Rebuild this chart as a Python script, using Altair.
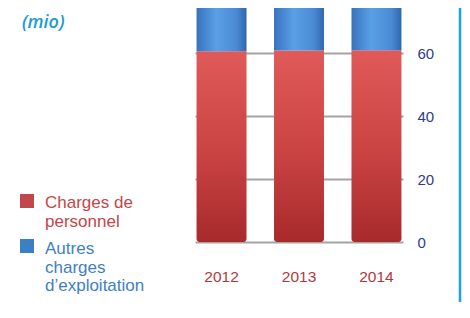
import altair as alt
import pandas as pd

years = ["2012", "2013", "2014"]
personnel = [60.6, 60.8, 60.9]
autres = [19.0, 19.0, 19.5]
series = ["Charges de personnel", "Autres charges d’exploitation"]
tick_values = [0, 20, 40, 60]
unit_label = "(mio)"

df = pd.DataFrame({"year": years, "personnel": personnel, "autres": autres})

FONT = "Liberation Sans"

x_enc = alt.X(
    "year:N",
    sort=years,
    scale=alt.Scale(paddingInner=0.355, paddingOuter=0.02),
    axis=alt.Axis(
        title=None, orient="bottom", domain=False, ticks=False, tickSize=0,
        labelPadding=27, labelFontSize=15.5, labelColor="#b2383c",
        labelFont=FONT, labelAngle=0, grid=False,
    ),
)
y_scale = alt.Scale(domain=[0, 74.3], nice=False, zero=True)

red_grad = alt.Gradient(
    gradient="linear", x1=0, x2=0, y1=0, y2=1,
    stops=[alt.GradientStop(color="#e05a5a", offset=0),
           alt.GradientStop(color="#cc4545", offset=0.5),
           alt.GradientStop(color="#a82a2b", offset=1)],
)
blue_grad = alt.Gradient(
    gradient="linear", x1=0, x2=1, y1=0, y2=0,
    stops=[alt.GradientStop(color="#3873bd", offset=0),
           alt.GradientStop(color="#5aa0e6", offset=0.4),
           alt.GradientStop(color="#4a8ad4", offset=0.8),
           alt.GradientStop(color="#2f67ae", offset=1)],
)

base = alt.Chart(df)

red_bars = base.mark_bar(
    fill=red_grad, clip=True, cornerRadiusBottomLeft=3, cornerRadiusBottomRight=3
).encode(
    x=x_enc,
    y=alt.Y(
        "personnel:Q", scale=y_scale, stack=None,
        axis=alt.Axis(
            title=None, orient="right", values=tick_values, domain=False,
            ticks=False, tickSize=0, labelPadding=14, labelFontSize=15,
            labelColor="#2d3d8a", labelFont=FONT, grid=True,
            gridColor="#a3a3a3", gridWidth=2, labelAlign="left",
        ),
    ),
)

blue_bars = base.mark_bar(
    fill=blue_grad, clip=True, cornerRadiusTopLeft=6, cornerRadiusTopRight=6
).transform_calculate(
    total="datum.personnel + datum.autres"
).encode(
    x=alt.X("year:N", sort=years),
    y=alt.Y("total:Q", scale=y_scale),
    y2="personnel:Q",
)

leg_df = pd.DataFrame({"s": series})

def leg_square(name, color, y):
    return alt.Chart(leg_df).transform_filter(
        alt.datum.s == name
    ).mark_square(size=196, color=color, opacity=1).encode(
        x=alt.value(-168), y=alt.value(y)
    )

def leg_text(name, label, color, y):
    return alt.Chart(leg_df).transform_filter(
        alt.datum.s == name
    ).mark_text(
        text=label, align="left", baseline="alphabetic", fontSize=17,
        font=FONT, color=color, lineBreak="\n", lineHeight=18.5,
    ).encode(x=alt.value(-150), y=alt.value(y))

leg = (
    leg_square(series[0], "#c0474b", 193)
    + leg_text(series[0], "Charges de\npersonnel", "#c3464a", 200)
    + leg_square(series[1], "#3c80c4", 238)
    + leg_text(series[1], "Autres\ncharges\nd’exploitation", "#3f80c3", 246)
)

mio = alt.Chart(pd.DataFrame({"t": [unit_label]})).mark_text(
    align="left", baseline="alphabetic", fontSize=18, font="Open Sans",
    fontStyle="italic", fontWeight=600, color="#1b9ad6",
).encode(text="t:N", x=alt.value(-173), y=alt.value(19.5))

edge = alt.Chart(pd.DataFrame({"t": [unit_label]})).mark_rule(
    color="#1aa3e0", strokeWidth=2.5
).encode(x=alt.value(265), y=alt.value(0), y2=alt.value(294))

chart = alt.layer(red_bars, blue_bars, leg, mio, edge).properties(
    width=208, height=234,
    autosize=alt.AutoSizeParams(type="none"),
    padding={"left": 187, "top": 0, "right": 59, "bottom": 60},
).configure_view(stroke=None)

chart.save("out.html", embed_options={"renderer": "svg", "actions": False})
